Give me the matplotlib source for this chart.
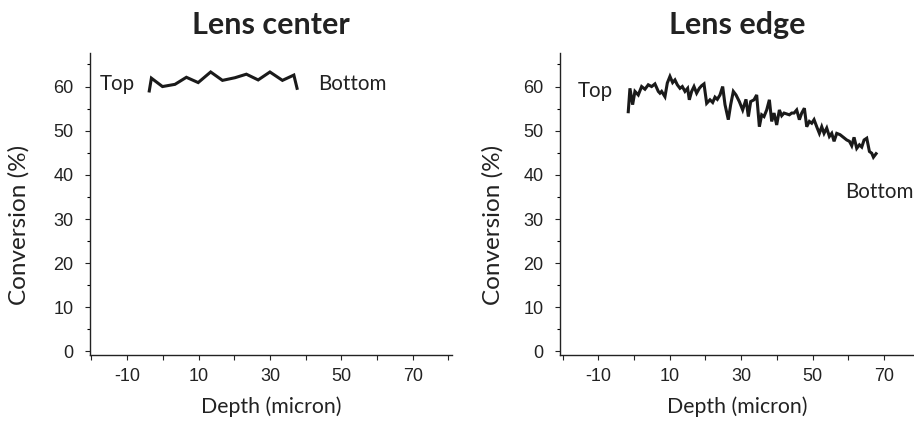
import matplotlib
matplotlib.use("Agg")
import matplotlib.pyplot as plt
from matplotlib.ticker import MultipleLocator, FixedLocator, FixedFormatter

# ---- data ----
center_depth = [-3.8, -3.2, -0.1, 3.4, 6.6, 9.9, 13.4, 16.7, 20.2, 23.4, 26.7, 30.0, 33.5, 36.7, 37.6]
center_conv = [59.0, 61.9, 60.0, 60.5, 62.1, 60.9, 63.3, 61.4, 62.0, 62.8, 61.5, 63.3, 61.4, 62.6, 59.6]

edge_depth = [-1.59, -1.12, -0.37, 0.28, 1.21, 2.15, 3.08, 4.01, 4.95, 5.88, 6.82, 7.28, 7.75, 8.68,
              9.34, 10.08, 10.83, 11.48, 12.14, 12.89, 13.54, 14.29, 15.03, 15.50, 16.15, 16.81,
              17.55, 18.30, 18.95, 19.61, 20.36, 21.29, 22.04, 22.69, 23.34, 24.09, 24.84, 25.49,
              26.42, 27.08, 27.82, 28.57, 29.50, 30.44, 31.37, 32.03, 32.68, 33.61, 34.36, 35.11,
              35.76, 36.41, 37.16, 37.91, 38.56, 39.22, 39.96, 40.71, 41.36, 42.02, 42.76, 43.51,
              44.16, 44.82, 45.56, 46.31, 46.97, 47.71, 48.37, 49.11, 49.77, 50.42, 51.17, 51.91,
              52.57, 53.22, 53.97, 54.71, 55.37, 56.02, 56.77, 57.70, 58.64, 59.57, 60.32, 60.97,
              61.62, 62.37, 63.12, 63.77, 64.43, 65.17, 65.92, 66.57, 67.04, 67.79]
edge_conv = [54.3, 59.6, 55.9, 58.9, 58.1, 60.0, 59.4, 60.4, 60.0, 60.6, 58.9, 58.5, 58.9, 57.7,
             60.8, 62.3, 60.9, 61.5, 60.4, 59.6, 60.0, 58.9, 59.6, 57.0, 58.9, 60.0,
             58.5, 59.6, 60.2, 60.6, 56.2, 57.0, 56.4, 57.6, 57.1, 58.1, 60.0, 55.9,
             52.5, 55.9, 58.9, 58.1, 56.6, 54.7, 57.1, 53.2, 56.6, 57.0, 58.1, 50.9,
             53.6, 53.2, 54.7, 57.0, 52.1, 54.0, 51.3, 54.7, 53.4, 54.0, 53.8, 53.6,
             54.0, 54.0, 54.7, 52.5, 54.0, 55.1, 50.9, 52.1, 51.7, 52.5, 50.9, 49.4,
             50.9, 49.4, 50.6, 48.7, 49.4, 47.6, 49.4, 49.1, 48.5, 47.9, 47.6, 46.6,
             48.5, 46.0, 46.8, 46.3, 47.9, 48.3, 45.3, 44.9, 44.0, 44.8]

titles = ["Lens center", "Lens edge"]
xlabel = "Depth (micron)"
ylabel = "Conversion (%)"
x_ticks = [-20, -10, 0, 10, 20, 30, 40, 50, 60, 70, 80]
x_ticklabels = ["", "-10", "", "10", "", "30", "", "50", "", "70", ""]
y_ticks = [0, 10, 20, 30, 40, 50, 60]

TXT = ["Lato", "DejaVu Sans"]
NUM = ["Liberation Sans", "DejaVu Sans"]

fig = plt.figure(figsize=(9.14, 4.21), dpi=100)
W, H = 914, 421

def make_ax(x0, x1, y0, y1):
    return fig.add_axes([x0 / W, (H - y1) / H, (x1 - x0) / W, (y1 - y0) / H])

ax1 = make_ax(90, 452, 53, 355)
ax2 = make_ax(560, 914, 53, 355)

configs = [
    (ax1, center_depth, center_conv, (-20.4, 81.0),
     [("Top", -17.6, 60.6), ("Bottom", 43.4, 60.6)], -0.166),
    (ax2, edge_depth, edge_conv, (-20.7, 78.4),
     [("Top", -15.7, 58.9), ("Bottom", 59.1, 36.2)], -0.158),
]

for i, (ax, xs, ys, xlim, notes, ylx) in enumerate(configs):
    ax.plot(xs, ys, color="#1a1a1a", lw=2.2, solid_joinstyle="miter")
    ax.set_xlim(*xlim)
    ax.set_ylim(-0.8, 67.6)
    for s in ["top", "right"]:
        ax.spines[s].set_visible(False)
    for s in ["left", "bottom"]:
        ax.spines[s].set_linewidth(1.0)
        ax.spines[s].set_color("#222222")
    ax.xaxis.set_major_locator(FixedLocator(x_ticks))
    ax.xaxis.set_major_formatter(FixedFormatter(x_ticklabels))
    ax.yaxis.set_major_locator(FixedLocator(y_ticks))
    ax.yaxis.set_minor_locator(MultipleLocator(5))
    ax.tick_params(axis="x", direction="out", length=3.5, width=0.8, pad=6,
                   labelsize=13, colors="#222222", labelfontfamily=NUM)
    ax.tick_params(axis="y", which="major", direction="out", length=3.5, width=0.8, pad=8.5,
                   labelsize=13, colors="#222222", labelfontfamily=NUM)
    ax.tick_params(axis="y", which="minor", direction="out", length=2.5, width=0.8)
    ax.set_xlabel(xlabel, fontsize=15.3, family=TXT, color="#222222", labelpad=8)
    ax.set_ylabel(ylabel, fontsize=17.5, family=TXT, color="#222222")
    ax.yaxis.set_label_coords(ylx, 0.43)
    ax.set_title(titles[i], fontsize=22, family=TXT, fontweight="bold", color="#222222", pad=14)
    for t, x, y in notes:
        ax.text(x, y, t, fontsize=14.8, family=TXT, color="#222222", ha="left", va="center")

fig.savefig("out.png", dpi=100)
